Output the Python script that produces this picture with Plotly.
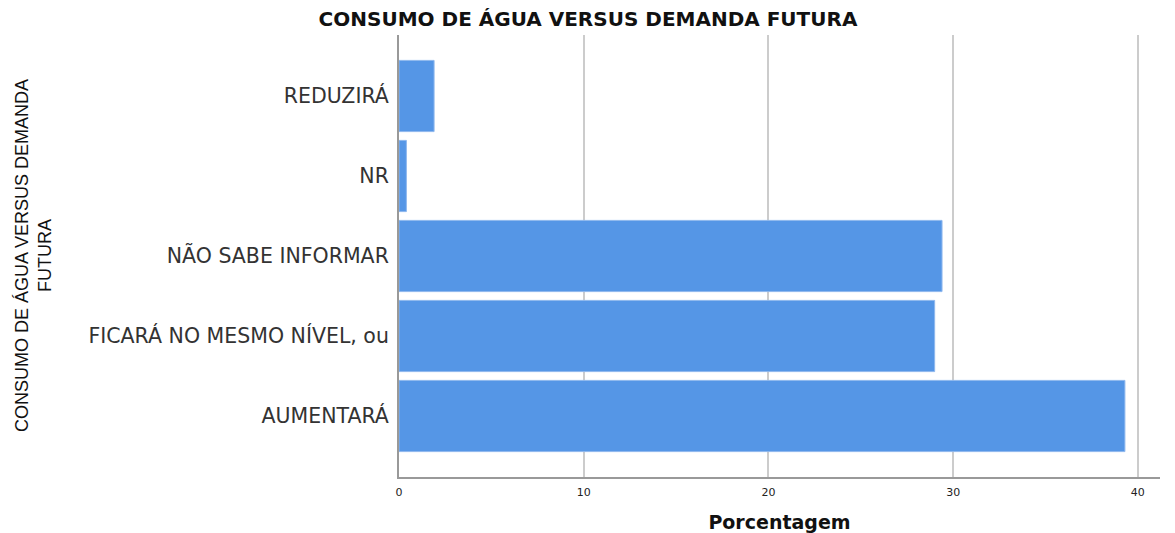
import plotly.graph_objects as go

categories = ["AUMENTARÁ", "FICARÁ NO MESMO NÍVEL, ou", "NÃO SABE INFORMAR", "NR", "REDUZIRÁ"]
values = [39.3, 29.0, 29.4, 0.4, 1.9]
x_ticks = [0, 10, 20, 30, 40]

W, H = 1167, 525  # page body adds an 8px margin
fig = go.Figure(go.Bar(
    x=values, y=categories, orientation="h",
    marker=dict(color="#5596e6", line=dict(color="#8fb8ee", width=1)),
    width=0.89,
))

fig.update_layout(
    width=W, height=H,
    margin=dict(l=391, r=15, t=27, b=56),
    paper_bgcolor="white", plot_bgcolor="white",
    showlegend=False,
    title=dict(text="<b>CONSUMO DE ÁGUA VERSUS DEMANDA FUTURA</b>", x=(588 - 8) / W, xanchor="center",
               y=1 - 11 / H, yanchor="middle",
               font=dict(family="DejaVu Sans, Verdana", size=20, color="#111")),
    xaxis=dict(range=[0, 41.2], tickvals=x_ticks, ticktext=[str(v) for v in x_ticks],
               showgrid=True, gridcolor="#cccccc", gridwidth=1.5, automargin=False,
               showline=True, linecolor="#999999", linewidth=2, zeroline=False,
               ticks="", ticklabelstandoff=4,
               tickfont=dict(family="DejaVu Sans, Verdana", size=11, color="#222"),
               title=dict(text="<b>Porcentagem</b>", standoff=24,
                          font=dict(family="DejaVu Sans, Verdana", size=19, color="#111"))),
    yaxis=dict(range=[-0.7625, 4.7625], showgrid=False, showline=True, linecolor="#999999",
               linewidth=2, ticks="", ticklabelstandoff=4, automargin=False,
               tickfont=dict(family="DejaVu Sans, Verdana", size=20.5, color="#333")),
    annotations=[dict(
        text="CONSUMO DE ÁGUA VERSUS DEMANDA<br>FUTURA", textangle=-90,
        xref="paper", yref="paper", x=(33 - 399) / 761, y=0.5,
        xanchor="center", yanchor="middle", showarrow=False,
        font=dict(family="Liberation Sans Narrow, Arial Narrow, Liberation Sans", size=18, color="#111"),
    )],
)

fig.write_html("out.html")
